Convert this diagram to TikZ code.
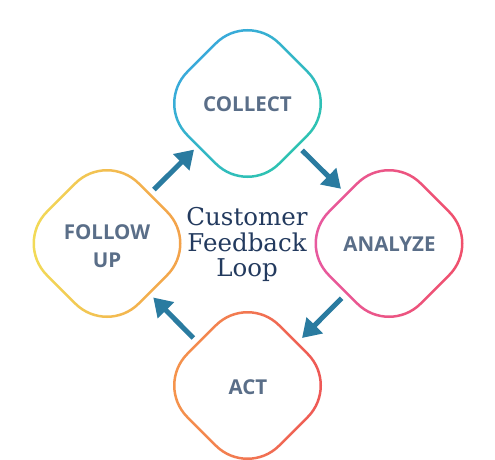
\documentclass[tikz,border=0pt]{standalone}
\usepackage{fontspec}
\usetikzlibrary{arrows.meta,calc}
\newfontfamily\labelfont{Open Sans}
\newfontfamily\titlefont{DejaVu Serif}
\definecolor{arrowblue}{HTML}{2A7BA0}
\definecolor{labelgray}{HTML}{5A6E88}
\definecolor{titlenavy}{HTML}{233A5E}
\definecolor{cBlue}{HTML}{3AA8DE}
\definecolor{cTeal}{HTML}{2DC5AE}
\definecolor{aPink}{HTML}{E75AA0}
\definecolor{aRed}{HTML}{F0506A}
\definecolor{tOrange}{HTML}{F5964C}
\definecolor{tRed}{HTML}{EE5656}
\definecolor{fYellow}{HTML}{F2DC58}
\definecolor{fOrange}{HTML}{F3A04A}
% rounded-diamond ring: #1 centre, #2/#3 colours, #4 shading angle
\newcommand{\ringdiamond}[4]{%
  \shade[even odd rule, top color=#2, bottom color=#3, shading angle=#4]
    ($(#1)+(0,-28.5)+(225:46)$) arc[start angle=225,end angle=315,radius=46]
    -- ($(#1)+(28.5,0)+(315:46)$) arc[start angle=315,end angle=405,radius=46]
    -- ($(#1)+(0,28.5)+(45:46)$) arc[start angle=45,end angle=135,radius=46]
    -- ($(#1)+(-28.5,0)+(135:46)$) arc[start angle=135,end angle=225,radius=46] -- cycle
    ($(#1)+(0,-28.5)+(225:43.5)$) arc[start angle=225,end angle=315,radius=43.5]
    -- ($(#1)+(28.5,0)+(315:43.5)$) arc[start angle=315,end angle=405,radius=43.5]
    -- ($(#1)+(0,28.5)+(45:43.5)$) arc[start angle=45,end angle=135,radius=43.5]
    -- ($(#1)+(-28.5,0)+(135:43.5)$) arc[start angle=135,end angle=225,radius=43.5] -- cycle;
}
\tikzset{
  boxlabel/.style={font=\labelfont\bfseries\fontsize{20.5}{28}\selectfont, text=labelgray, align=center, inner sep=0pt},
  flowarrow/.style={draw=arrowblue, line width=5pt, -{Triangle[length=18pt,width=22pt]}},
  titletext/.style={font=\titlefont\fontsize{24.5}{25.5}\selectfont, text=titlenavy, align=center, inner sep=0pt}
}
\begin{document}
\begin{tikzpicture}[x=1pt,y=-1pt]
\useasboundingbox[fill=white] (0,0) rectangle (495,460);
\coordinate (cC) at (247.5,103.5);
\coordinate (cA) at (389,243.5);
\coordinate (cT) at (247.5,385.5);
\coordinate (cF) at (107,243.5);
\ringdiamond{cC}{cBlue}{cTeal}{45}
\ringdiamond{cA}{aPink}{aRed}{90}
\ringdiamond{cT}{tOrange}{tRed}{90}
\ringdiamond{cF}{fYellow}{fOrange}{90}
\node[boxlabel] (collect) at (247.5,104.5) {COLLECT};
\node[boxlabel] (analyze) at (389.5,244.5) {ANALYZE};
\node[boxlabel] (act) at (248,387.5) {ACT};
\node[boxlabel] (follow) at (107,246) {FOLLOW\\UP};
\node[titletext, anchor=north] (title) at (247,207.5) {Customer\\Feedback\\Loop};
\draw[flowarrow] ($(cF)!0.36!(cC)+(-3.6,-3.6)$) -- ($(cF)!0.645!(cC)+(-3.6,-3.6)$);
\draw[flowarrow] ($(cC)!0.36!(cA)+(3.6,-3.6)$) -- ($(cC)!0.635!(cA)+(3.6,-3.6)$);
\draw[flowarrow] ($(cA)!0.36!(cT)+(3.6,3.6)$) -- ($(cA)!0.64!(cT)+(3.6,3.6)$);
\draw[flowarrow] ($(cT)!0.36!(cF)+(-3.6,3.6)$) -- ($(cT)!0.645!(cF)+(-3.6,3.6)$);
\end{tikzpicture}
\end{document}
